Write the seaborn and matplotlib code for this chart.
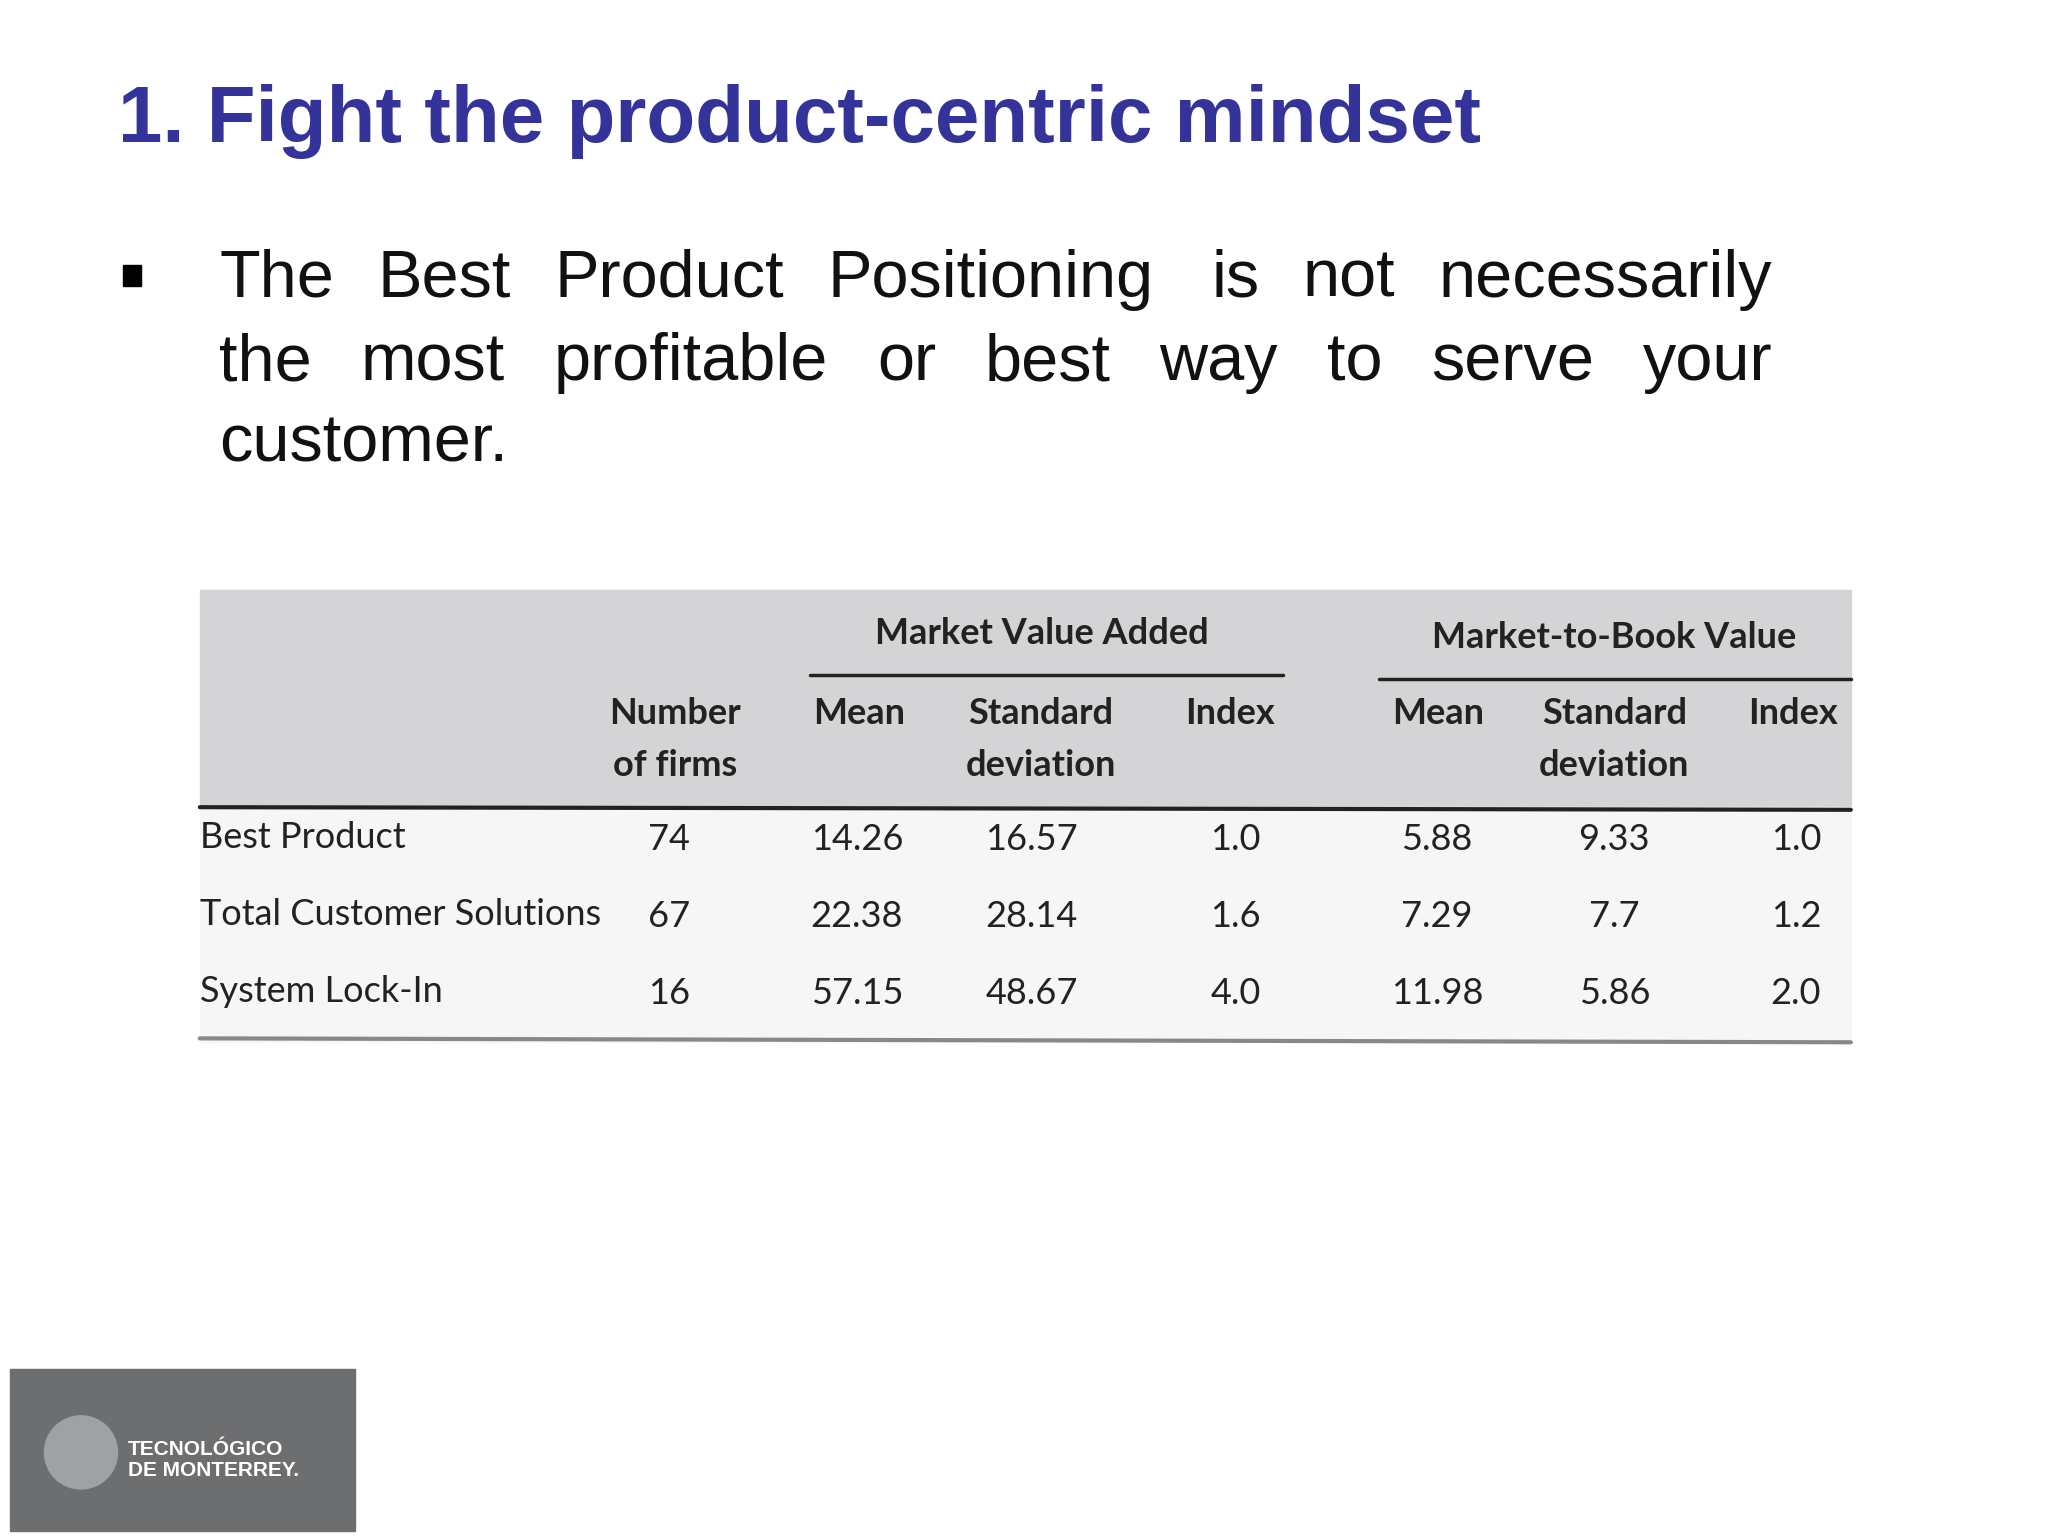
import matplotlib
matplotlib.use("Agg")
import matplotlib.pyplot as plt
import seaborn as sns
from matplotlib.patches import Rectangle

sns.set_theme(style="white")
plt.rcParams['font.family'] = ['Liberation Sans', 'DejaVu Sans']

title = "1. Fight the product-centric mindset"
body_lines = [["The", "Best", "Product", "Positioning", "", "is", "not", "necessarily"],
              ["the", "most", "profitable", "or", "best", "way", "to", "serve", "your"]]
body_last = "customer."
groups = ["Market Value Added", "Market-to-Book Value"]
col_heads = ["Number\nof firms", "Mean", "Standard\ndeviation", "Index", "Mean", "Standard\ndeviation", "Index"]
rows = ["Best Product", "Total Customer Solutions", "System Lock-In"]
n_firms = ["74", "67", "16"]
mva_mean = ["14.26", "22.38", "57.15"]
mva_sd = ["16.57", "28.14", "48.67"]
mva_idx = ["1.0", "1.6", "4.0"]
mtb_mean = ["5.88", "7.29", "11.98"]
mtb_sd = ["9.33", "7.7", "5.86"]
mtb_idx = ["1.0", "1.2", "2.0"]

fig = plt.figure(figsize=(20.48, 15.36), dpi=100)
ax = fig.add_axes([0, 0, 1, 1])
ax.set_xlim(0, 1568); ax.set_ylim(1176, 0); ax.axis("off")

ax.text(90, 93, title, fontsize=57.5, fontweight="bold", color="#333399", va="center", ha="left")

ax.add_patch(Rectangle((94, 203), 14, 16, color="black"))
fs_body = 48
x0, x1 = 168, 1357
extra = 0.35
r = fig.canvas.get_renderer()
for y, words in zip([214, 278], body_lines):
    widths = []
    for w in words:
        if w:
            t = ax.text(0, 0, w, fontsize=fs_body)
            widths.append(t.get_window_extent(renderer=r).width * 1568 / 2048)
            t.remove()
        else:
            widths.append(0)
    n_real = sum(1 for w in words if w)
    n_empty = len(words) - n_real
    gap = (x1 - x0 - sum(widths)) / ((n_real - 1) + extra * n_empty)
    x = x0
    for w, wd in zip(words, widths):
        if w:
            ax.text(x, y, w, fontsize=fs_body, va="center", ha="left", color="#111")
            x += wd + gap
        else:
            x += gap * extra
ax.text(x0, 340, body_last, fontsize=fs_body, va="center", ha="left", color="#111")

tf = ['Lato', 'DejaVu Sans']
fs_t = 26
ax.add_patch(Rectangle((153, 452), 1264, 166, color="#d4d4d6", zorder=0))
ax.add_patch(Rectangle((153, 618), 1264, 180, color="#f6f6f7", zorder=0))
ax.text(798, 485, groups[0], fontsize=fs_t, fontweight="bold", family=tf, ha="center", va="center", color="#222")
ax.text(1236, 488, groups[1], fontsize=fs_t, fontweight="bold", family=tf, ha="center", va="center", color="#222")
ax.plot([620, 982], [517, 517], color="#222", lw=2.5)
ax.plot([1056, 1417], [520, 520], color="#222", lw=2.5)
ax.plot([153, 1417], [618, 620], color="#222", lw=3)
ax.plot([153, 1417], [795, 798], color="#888", lw=3)

hx = [517, 658, 797, 942, 1101, 1236, 1373]
for x, h in zip(hx, col_heads):
    for k, line in enumerate(h.split("\n")):
        ax.text(x, 546 + 40 * k, line, fontsize=fs_t, fontweight="bold", family=tf,
                ha="center", va="center", color="#222")
ry = [641, 700, 759]
cols = [n_firms, mva_mean, mva_sd, mva_idx, mtb_mean, mtb_sd, mtb_idx]
vx = [512, 656, 790, 946, 1100, 1236, 1375]
for i, y in enumerate(ry):
    ax.text(153, y, rows[i], fontsize=fs_t, family=tf, ha="left", va="center", color="#222")
    for x, c in zip(vx, cols):
        ax.text(x, y + 2, c[i], fontsize=fs_t, family=tf, ha="center", va="center", color="#222")

ax.add_patch(Rectangle((8, 1048), 264, 124, color="#6d6e70"))
ax.add_patch(plt.Circle((62, 1112), 28, color="#a0a1a3"))
ax.text(98, 1118, "TECNOLÓGICO\nDE MONTERREY.", fontsize=15, fontweight="bold", color="white",
        ha="left", va="center", linespacing=1.1)

fig.savefig("out.png", dpi=100)
